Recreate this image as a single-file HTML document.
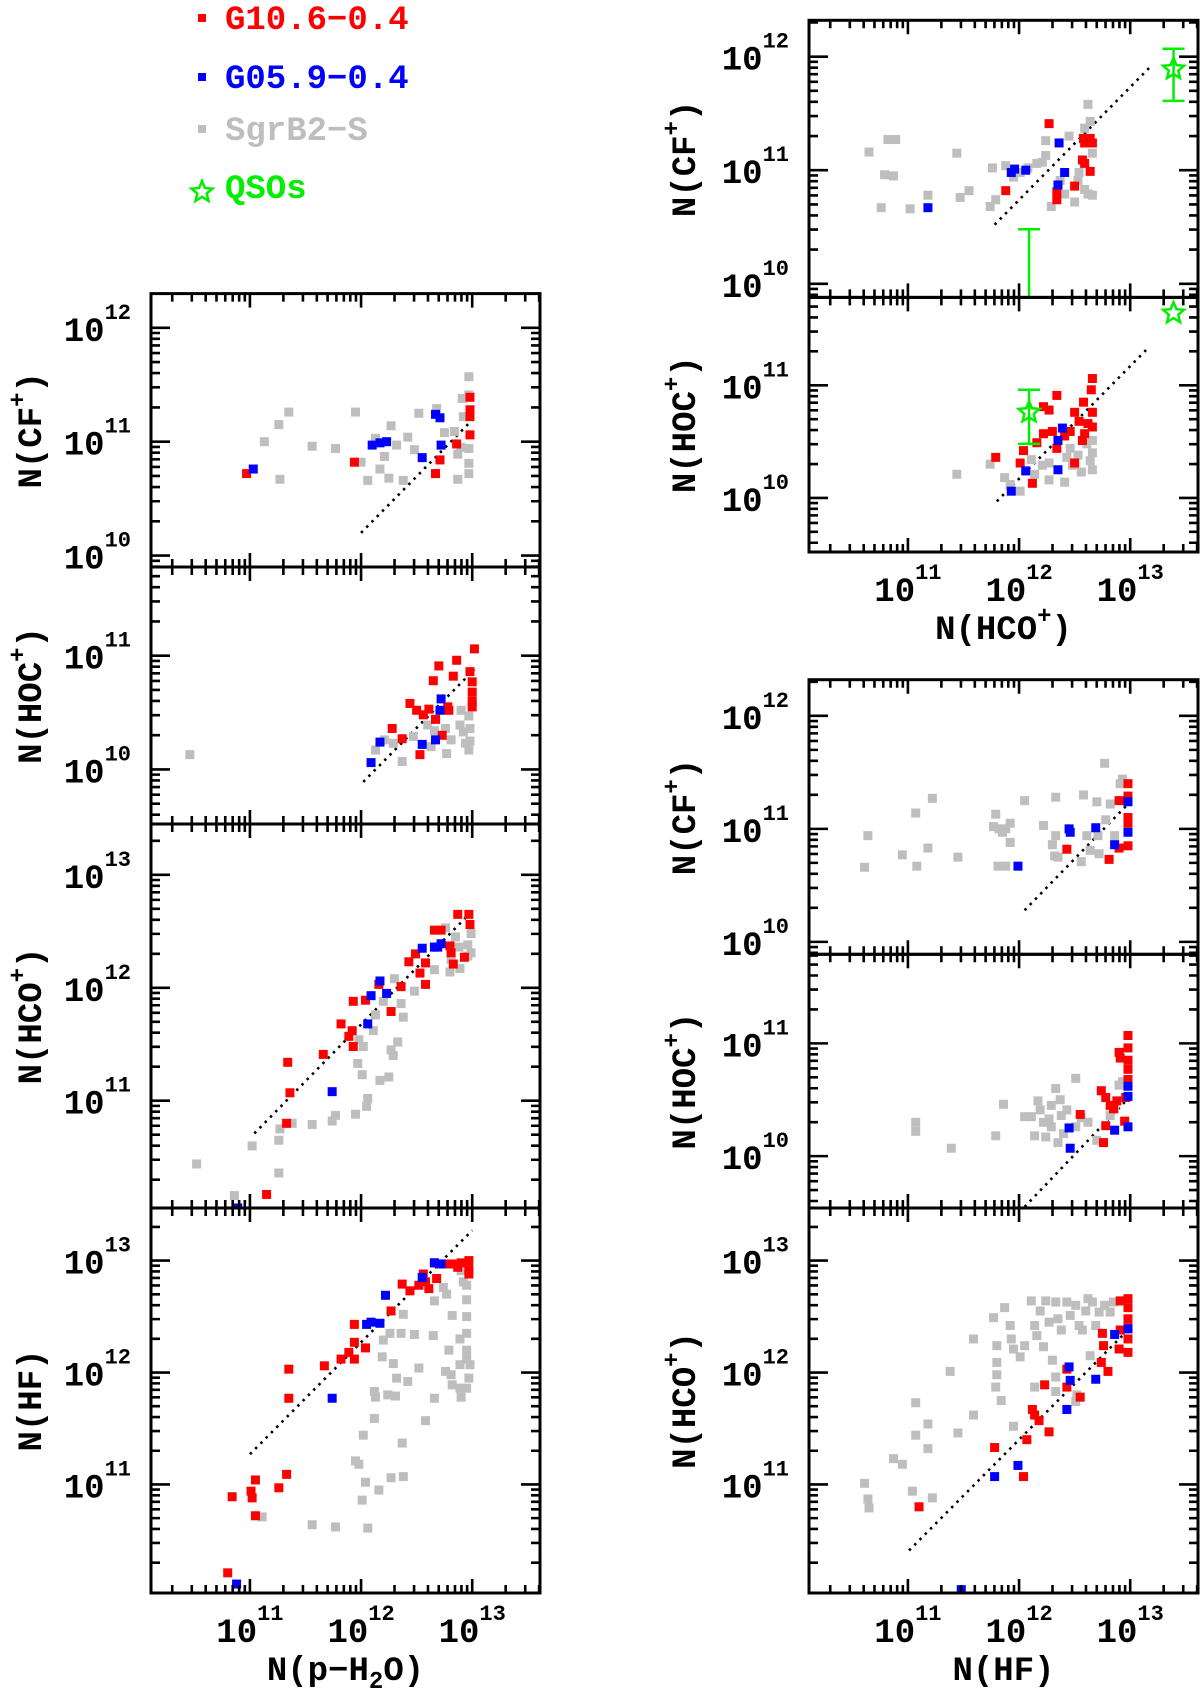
<!DOCTYPE html>
<html><head><meta charset="utf-8"><title>Column density correlations</title>
<style>
html,body{margin:0;padding:0;background:#fff;}
svg{display:block;}
text{font-family:"Liberation Mono","DejaVu Sans Mono",monospace;font-weight:bold;}
</style></head>
<body>
<svg id="fig" width="1200" height="1696" viewBox="0 0 1200 1696" xmlns="http://www.w3.org/2000/svg">
  <g id="legend">
    <rect x="198" y="14" width="8" height="8" fill="#ff0000"/>
    <text x="225" y="29" font-size="34" fill="#ff0000">G10.6−0.4</text>
    <rect x="198" y="73" width="8" height="8" fill="#0000ff"/>
    <text x="225" y="88" font-size="34" fill="#0000ff">G05.9−0.4</text>
    <rect x="198" y="125" width="8" height="8" fill="#bebebe"/>
    <text x="225" y="140" font-size="34" fill="#bebebe">SgrB2−S</text>
    <polygon id="legstar" fill="none" stroke="#00ee00" stroke-width="2.5"/>
    <text x="225" y="198" font-size="34" fill="#00ee00">QSOs</text>
  </g>
</svg>
<script>
// ---------- DATA (log10 column densities) ----------
// Left column: x = N(p-H2O)
const cfH2oGray=[[11.13,11.0],[11.26,11.15],[11.35,11.26],[11.27,10.67],[11.56,10.96],[11.77,10.94],[11.95,11.26],[12.0,10.82],[12.06,10.66],[12.13,11.03],[12.17,10.76],[12.21,10.87],[12.25,10.68],[12.27,11.14],[12.32,10.97],[12.42,11.04],[12.38,10.66],[12.48,10.93],[12.52,11.25],[12.68,11.29],[12.75,11.08],[12.87,10.67],[12.87,10.89],[12.91,11.38],[12.92,11.22],[12.97,11.57],[12.97,11.41],[12.97,10.94],[12.97,10.81],[12.97,10.72],[12.84,11.09],[12.90,10.95]];
const cfH2oRed=[[10.97,10.72],[11.94,10.82],[12.67,10.72],[12.71,10.84],[12.86,10.98],[12.98,11.39],[12.98,11.28],[12.98,11.22],[12.98,11.06]];
const cfH2oBlue=[[11.03,10.76],[12.10,10.97],[12.17,10.99],[12.23,11.0],[12.55,10.86],[12.67,11.24],[12.71,11.21],[12.72,10.97]];
const cfH2oFit=[[12.0,10.2],[13.0,11.19]];

const hocH2oGray=[[10.46,10.13],[12.13,10.17],[12.21,10.26],[12.29,10.23],[12.37,10.07],[12.47,10.29],[12.6,10.39],[12.66,10.34],[12.76,10.36],[12.77,10.14],[12.81,10.26],[12.89,10.39],[12.92,10.33],[12.94,10.23],[12.97,10.17],[12.97,10.47],[12.9,10.52],[12.98,10.36],[12.98,10.25],[12.63,10.2]];
const hocH2oRed=[[13.02,11.06],[12.86,10.96],[12.70,10.91],[12.83,10.82],[12.65,10.78],[12.98,10.86],[13.0,10.77],[13.0,10.68],[13.0,10.6],[13.0,10.55],[12.44,10.58],[12.5,10.52],[12.56,10.48],[12.61,10.53],[12.67,10.44],[12.79,10.52],[12.28,10.36],[12.37,10.27],[12.53,10.13],[12.73,10.30],[12.78,10.55]];
const hocH2oBlue=[[12.09,10.06],[12.17,10.24],[12.55,10.22],[12.67,10.26],[12.72,10.62],[12.71,10.52]];
const hocH2oFit=[[12.02,9.89],[13.02,10.88]];

const hcoH2oGray=[[10.52,10.44],[10.86,10.16],[11.02,10.60],[11.26,10.36],[11.26,10.65],[11.27,10.75],[11.38,10.8],[11.56,10.79],[11.74,10.82],[11.77,10.87],[11.95,10.88],[12.05,10.95],[12.06,11.02],[12.01,11.23],[11.97,11.33],[12.02,11.48],[11.98,11.54],[12.17,11.18],[12.25,11.21],[12.29,11.40],[12.27,11.45],[12.33,11.52],[12.11,11.62],[12.13,11.76],[12.2,11.88],[12.38,11.74],[12.36,11.86],[12.30,12.08],[12.48,11.97],[12.66,12.16],[12.80,12.14],[12.89,12.17],[12.96,12.28],[12.96,12.38],[12.99,12.48],[12.88,12.36],[12.81,12.25],[12.76,12.53],[12.85,12.45],[12.99,12.31]];
const hcoH2oRed=[[11.34,11.34],[11.36,11.07],[11.33,10.80],[11.15,10.17],[11.66,11.41],[11.82,11.68],[11.92,11.62],[11.89,11.57],[11.93,11.48],[11.93,11.88],[12.04,11.89],[12.27,11.79],[12.36,12.01],[12.43,12.23],[12.49,12.30],[12.53,12.13],[12.58,12.03],[12.58,12.22],[12.66,12.51],[12.72,12.51],[12.80,12.37],[12.81,12.31],[12.83,12.21],[12.87,12.65],[12.93,12.27],[12.97,12.65],[12.98,12.56],[12.16,12.03]];
const hcoH2oBlue=[[10.89,10.05],[11.74,11.08],[12.06,11.68],[12.09,11.93],[12.17,12.06],[12.23,11.95],[12.55,12.35],[12.66,12.36],[12.72,12.39],[12.69,12.36]];
const hcoH2oFit=[[11.04,10.71],[13.0,12.68]];

const hfH2oGray=[[11.11,10.71],[11.56,10.64],[11.77,10.62],[12.06,10.61],[12.01,10.86],[12.04,11.02],[12.16,10.95],[11.95,11.21],[11.98,11.18],[12.27,11.06],[12.38,11.07],[12.37,11.37],[12.02,11.44],[12.12,11.59],[12.58,11.57],[12.12,11.83],[12.13,11.78],[12.24,11.8],[12.31,11.79],[12.32,11.95],[12.42,11.92],[12.19,12.14],[12.29,12.08],[12.2,12.29],[12.26,12.35],[12.36,12.35],[12.48,12.34],[12.52,12.04],[12.65,12.33],[12.38,12.52],[12.66,11.77],[12.76,12.01],[12.79,12.2],[12.82,12.51],[12.66,12.64],[12.74,12.76],[12.77,12.7],[12.82,11.89],[12.89,11.86],[12.90,11.78],[12.89,12.07],[12.95,11.86],[12.97,11.95],[12.90,12.91],[12.92,12.81],[12.95,12.78],[12.95,12.65],[12.95,12.5],[12.95,12.35],[12.95,12.2],[12.95,12.12],[12.89,12.3],[12.81,11.98],[12.98,12.07]];
const hfH2oRed=[[10.84,10.89],[11.01,10.94],[11.02,10.88],[11.05,11.04],[11.05,10.72],[11.26,10.97],[11.33,11.09],[11.35,11.77],[11.35,12.03],[11.67,12.06],[11.82,12.12],[11.89,12.18],[11.94,12.27],[11.94,12.12],[11.94,12.43],[12.04,12.22],[12.27,12.55],[12.37,12.79],[12.44,12.73],[12.52,12.78],[12.58,12.81],[12.56,12.88],[12.61,12.75],[12.68,12.84],[12.66,12.98],[12.76,12.97],[12.82,12.97],[12.90,12.98],[12.97,13.0],[12.97,12.92],[12.97,12.88],[12.87,12.94],[10.80,10.21]];
const hfH2oBlue=[[10.88,10.11],[11.74,11.77],[12.05,12.43],[12.09,12.45],[12.17,12.44],[12.22,12.69],[12.55,12.85],[12.66,12.98],[12.72,12.97]];
const hfH2oFit=[[11.0,11.27],[13.0,13.27]];

// Right top: x = N(HCO+)
const cfHcoGray=[[10.65,11.16],[10.82,11.27],[10.89,11.27],[10.79,10.96],[10.87,10.95],[10.76,10.67],[11.02,10.66],[11.18,10.78],[11.44,11.15],[11.47,10.76],[11.55,10.82],[11.74,10.68],[11.79,10.74],[11.76,11.02],[11.88,11.04],[11.95,10.94],[12.01,10.98],[12.08,11.02],[12.16,11.06],[12.21,11.07],[12.24,11.26],[12.24,11.13],[12.29,10.68],[12.37,10.91],[12.41,10.79],[12.45,11.3],[12.5,10.72],[12.53,10.91],[12.59,10.83],[12.62,10.79],[12.66,10.78],[12.62,11.58],[12.64,11.43],[12.59,11.37],[12.66,11.15],[12.54,10.98]];
const cfHcoRed=[[12.27,11.41],[11.88,10.82],[12.34,10.81],[12.34,10.74],[12.50,10.86],[12.57,11.09],[12.59,11.06],[12.64,10.99],[12.59,11.24],[12.64,11.28],[12.66,11.24],[12.58,11.28]];
const cfHcoBlue=[[11.18,10.67],[11.93,10.98],[11.96,11.01],[12.06,11.0],[12.36,11.24],[12.41,10.98],[12.35,10.87]];
const cfHcoFit=[[11.78,10.52],[13.19,11.92]];
const cfHcoQsoStar=[[13.39,11.89]];
const cfHcoQsoErr=[[13.39,11.61,12.07],[12.09,9.88,10.48]];

const hocHcoGray=[[11.44,10.21],[11.74,10.30],[11.87,10.18],[12.01,10.06],[11.92,10.12],[12.11,10.34],[12.27,10.16],[12.41,10.14],[12.27,10.31],[12.43,10.36],[12.46,10.44],[12.53,10.38],[12.61,10.48],[12.64,10.33],[12.66,10.51],[12.66,10.25],[12.56,10.23],[12.48,10.29],[12.14,10.21],[12.21,10.29],[12.66,10.40]];
const hocHcoRed=[[11.79,10.36],[12.01,10.31],[12.04,10.42],[12.12,10.13],[12.16,10.49],[12.22,10.57],[12.22,10.81],[12.27,10.78],[12.34,10.91],[12.34,10.44],[12.3,10.59],[12.41,10.55],[12.46,10.59],[12.5,10.31],[12.5,10.76],[12.54,10.68],[12.58,10.85],[12.59,10.57],[12.62,10.66],[12.65,10.96],[12.66,11.06],[12.66,10.76],[12.66,10.63],[12.57,10.51]];
const hocHcoBlue=[[11.93,10.06],[12.06,10.24],[12.35,10.51],[12.39,10.62],[12.35,10.25]];
const hocHcoFit=[[11.8,9.97],[13.16,11.33]];
const hocHcoQsoStar=[[13.39,11.64],[12.09,10.76]];
const hocHcoQsoErr=[[12.09,10.48,10.96]];

// Right bottom: x = N(HF)
const cfHfGray=[[10.61,10.66],[10.64,10.94],[10.95,10.77],[11.07,11.14],[11.08,10.67],[11.18,10.83],[11.22,11.27],[11.45,10.75],[11.79,11.13],[11.77,11.02],[11.82,11.0],[11.85,10.97],[11.88,11.0],[11.92,11.05],[11.92,10.88],[11.81,10.67],[11.88,10.67],[12.05,11.25],[12.22,11.03],[12.30,10.86],[12.33,10.94],[12.32,10.76],[12.35,10.75],[12.33,11.28],[12.56,10.71],[12.58,11.30],[12.61,10.94],[12.64,10.81],[12.70,11.24],[12.72,10.78],[12.71,10.94],[12.77,11.58],[12.78,11.08],[12.82,11.22],[12.86,10.94],[12.91,11.40],[12.93,11.44]];
const cfHfRed=[[12.43,10.82],[12.81,10.73],[12.90,10.83],[12.90,11.25],[12.98,11.40],[12.98,11.29],[12.98,11.10],[12.98,11.05],[12.98,10.85]];
const cfHfBlue=[[11.99,10.67],[12.45,11.0],[12.46,10.97],[12.69,11.01],[12.86,10.86],[12.98,11.24],[12.98,10.97]];
const cfHfFit=[[12.05,10.28],[12.99,11.23]];

const hocHfGray=[[11.07,10.30],[11.07,10.22],[11.39,10.07],[11.79,10.18],[11.86,10.46],[12.05,10.35],[12.11,10.35],[12.14,10.18],[12.17,10.49],[12.19,10.41],[12.24,10.17],[12.27,10.33],[12.29,10.26],[12.33,10.6],[12.35,10.12],[12.37,10.50],[12.38,10.36],[12.43,10.41],[12.51,10.69],[12.51,10.26],[12.56,10.34],[12.62,10.30],[12.70,10.14],[12.74,10.58],[12.82,10.36],[12.86,10.42],[12.90,10.63],[12.93,10.66],[12.29,10.45],[12.22,10.30],[12.40,10.20]];
const hocHfRed=[[12.55,10.37],[12.74,10.58],[12.76,10.12],[12.78,10.52],[12.78,10.27],[12.82,10.45],[12.88,10.49],[12.90,10.92],[12.91,10.87],[12.95,10.31],[12.98,11.07],[12.98,10.96],[12.98,10.85],[12.98,10.77],[12.98,10.68],[12.96,10.52],[12.85,10.42]];
const hocHfBlue=[[12.45,10.25],[12.46,10.07],[12.86,10.23],[12.98,10.26],[12.98,10.62],[12.98,10.53]];
const hocHfFit=[[12.05,9.55],[12.98,10.51]];

const hcoHfGray=[[10.61,11.01],[10.64,10.87],[10.65,10.79],[10.87,11.23],[10.95,11.18],[11.04,10.94],[11.22,10.88],[11.07,11.73],[11.18,11.54],[11.07,11.44],[11.18,11.32],[11.38,12.01],[11.45,11.46],[11.59,12.30],[11.59,11.62],[11.77,12.49],[11.80,12.24],[11.80,12.09],[11.80,11.98],[11.79,11.87],[11.84,11.75],[11.87,12.58],[11.95,11.52],[11.92,12.42],[11.93,12.30],[11.95,12.21],[12.01,12.14],[12.05,12.24],[12.11,12.64],[12.14,12.42],[12.16,12.33],[12.19,12.55],[12.22,12.23],[12.24,12.64],[12.27,12.45],[12.30,12.11],[12.33,12.63],[12.35,12.48],[12.38,12.38],[12.43,12.63],[12.46,12.51],[12.51,12.60],[12.54,12.42],[12.57,12.38],[12.60,12.55],[12.66,12.63],[12.69,12.42],[12.72,12.54],[12.77,12.60],[12.82,12.54],[12.85,12.63],[12.64,12.15],[12.14,11.87],[12.33,11.96],[12.33,11.83],[12.51,11.74],[12.52,11.80],[12.62,12.66]];
const hcoHfRed=[[11.10,10.80],[11.78,11.33],[12.04,11.07],[12.07,11.40],[12.12,11.67],[12.14,11.62],[12.18,11.57],[12.23,11.89],[12.27,11.47],[12.43,12.03],[12.43,11.87],[12.55,11.78],[12.74,12.09],[12.76,12.24],[12.80,12.01],[12.75,12.35],[12.90,12.21],[12.91,12.38],[12.98,12.66],[12.98,12.58],[12.98,12.48],[12.98,12.4],[12.98,12.3],[12.98,12.18],[12.91,12.64]];
const hcoHfBlue=[[11.48,10.06],[11.78,11.07],[11.99,11.17],[12.43,11.67],[12.45,12.05],[12.46,11.93],[12.69,11.94],[12.86,12.34],[12.98,12.39]];
const hcoHfFit=[[11.01,10.41],[12.96,12.36]];

// ---------- LAYOUT ----------
const XMIN=10.11, XMAX=13.61;
const panels=[
 {id:'cf-vs-h2o', x0:151,x1:540,y0:293.6,y1:567,ymin:9.9,ymax:12.3, ytitle:['N(CF','+',')'], tx:29, gray:cfH2oGray,red:cfH2oRed,blue:cfH2oBlue,fit:cfH2oFit},
 {id:'hoc-vs-h2o', x0:151,x1:540,y0:567,y1:824,ymin:9.52,ymax:11.78, ytitle:['N(HOC','+',')'], tx:29, gray:hocH2oGray,red:hocH2oRed,blue:hocH2oBlue,fit:hocH2oFit},
 {id:'hco-vs-h2o', x0:151,x1:540,y0:824,y1:1208,ymin:10.05,ymax:13.45, ytitle:['N(HCO','+',')'], tx:29, gray:hcoH2oGray,red:hcoH2oRed,blue:hcoH2oBlue,fit:hcoH2oFit},
 {id:'hf-vs-h2o', x0:151,x1:540,y0:1208,y1:1593,ymin:10.03,ymax:13.47, ytitle:['N(HF)','',''], tx:29, gray:hfH2oGray,red:hfH2oRed,blue:hfH2oBlue,fit:hfH2oFit, xlab:true, xtitle:'h2o'},
 {id:'cf-vs-hco', x0:809,x1:1198,y0:20.3,y1:297.4,ymin:9.88,ymax:12.32, ytitle:['N(CF','+',')'], tx:683, gray:cfHcoGray,red:cfHcoRed,blue:cfHcoBlue,fit:cfHcoFit, stars:cfHcoQsoStar, errs:cfHcoQsoErr},
 {id:'hoc-vs-hco', x0:809,x1:1198,y0:297.4,y1:552,ymin:9.52,ymax:11.78, ytitle:['N(HOC','+',')'], tx:683, gray:hocHcoGray,red:hocHcoRed,blue:hocHcoBlue,fit:hocHcoFit, stars:hocHcoQsoStar, errs:hocHcoQsoErr, xlab:true, xtitle:'hco'},
 {id:'cf-vs-hf', x0:809,x1:1198,y0:679.7,y1:954.3,ymin:9.89,ymax:12.32, ytitle:['N(CF','+',')'], tx:683, gray:cfHfGray,red:cfHfRed,blue:cfHfBlue,fit:cfHfFit},
 {id:'hoc-vs-hf', x0:809,x1:1198,y0:954.3,y1:1208,ymin:9.54,ymax:11.79, ytitle:['N(HOC','+',')'], tx:683, gray:hocHfGray,red:hocHfRed,blue:hocHfBlue,fit:hocHfFit},
 {id:'hco-vs-hf', x0:809,x1:1198,y0:1208,y1:1593,ymin:10.03,ymax:13.47, ytitle:['N(HCO','+',')'], tx:683, gray:hcoHfGray,red:hcoHfRed,blue:hcoHfBlue,fit:hcoHfFit, xlab:true, xtitle:'hf'}
];

const NS='http://www.w3.org/2000/svg';
const svg=document.getElementById('fig');
function mk(tag,attrs,parent){const e=document.createElementNS(NS,tag);for(const k in attrs)e.setAttribute(k,attrs[k]);(parent||svg).appendChild(e);return e;}
function starPts(cx,cy,R){const r=R*0.45;let p=[];for(let i=0;i<10;i++){const a=-Math.PI/2+i*Math.PI/5;const rr=i%2?r:R;p.push((cx+rr*Math.cos(a)).toFixed(1)+','+(cy+rr*Math.sin(a)).toFixed(1));}return p.join(' ');}
document.getElementById('legstar').setAttribute('points',starPts(202,192,11));

panels.forEach((P,pi)=>{
  const sx=v=>P.x0+(v-XMIN)/(XMAX-XMIN)*(P.x1-P.x0);
  const sy=v=>P.y1-(v-P.ymin)/(P.ymax-P.ymin)*(P.y1-P.y0);
  const g=mk('g',{});
  
  
  const cp=mk('clipPath',{id:'clip'+pi},g);
  mk('rect',{x:P.x0,y:P.y0,width:P.x1-P.x0,height:P.y1-P.y0},cp);
  const data=mk('g',{'clip-path':'url(#clip'+pi+')'},g);
  
  
  // fit line
  const fl=mk('line',{x1:sx(P.fit[0][0]),y1:sy(P.fit[0][1]),x2:sx(P.fit[1][0]),y2:sy(P.fit[1][1]),stroke:'#000','stroke-width':2.6,'stroke-dasharray':'2.5 5'},data);
  
  
  const series=[['gray','#bebebe','sgrb2-s'],['red','#ff0000','g10'],['blue','#0000ff','g05']];
  series.forEach(([key,col,nm])=>{
    P[key].forEach(([lx,ly])=>{
      const r=mk('rect',{x:sx(lx)-4.5,y:sy(ly)-4.5,width:9,height:9,fill:col},data);
      
      
    });
  });
  if(P.errs){P.errs.forEach(([lx,lo,hi])=>{
    const x=sx(lx),ya=sy(lo),yb=sy(hi);
    const e=mk('path',{d:`M${x},${ya}V${yb}M${x-11},${ya}H${x+11}M${x-11},${yb}H${x+11}`,stroke:'#00ee00','stroke-width':2.5,fill:'none'},data);
    
    
  });}
  if(P.stars){P.stars.forEach(([lx,ly])=>{
    const s=mk('polygon',{points:starPts(sx(lx),sy(ly),11),fill:'none',stroke:'#00ee00','stroke-width':2.5},data);
    
    
  });}
  // frame
  const fr=mk('rect',{x:P.x0,y:P.y0,width:P.x1-P.x0,height:P.y1-P.y0,fill:'none',stroke:'#000','stroke-width':3},g);
  
  
  // ticks
  let d='';
  for(let dec=9;dec<=14;dec++){for(let k=1;k<=9;k++){const v=dec+Math.log10(k);
    if(v>XMIN&&v<XMAX){const x=sx(v),L=k==1?14:8;d+=`M${x},${P.y0}v${L}M${x},${P.y1}v${-L}`;}
    if(v>P.ymin&&v<P.ymax){const y=sy(v),L=k==1?19:9;d+=`M${P.x0},${y}h${L}M${P.x1},${y}h${-L}`;}
  }}
  const tk=mk('path',{d:d,stroke:'#000','stroke-width':2.6,fill:'none'},g);
  
  
  // y tick labels
  for(let dec=9;dec<=14;dec++){ if(dec>=P.ymin&&dec<=P.ymax){
    const y=sy(dec);
    const t=mk('text',{x:P.x0-20,y:y+13,'font-size':34,'text-anchor':'end'},g);
    
    
    t.innerHTML='10<tspan font-size="22" dy="-22">'+dec+'</tspan>';
  }}
  // x tick labels
  if(P.xlab){for(const dec of [11,12,13]){
    const x=sx(dec);
    const t=mk('text',{x:x,y:P.y1+49,'font-size':34,'text-anchor':'middle'},g);
    
    
    t.innerHTML='10<tspan font-size="22" dy="-22">'+dec+'</tspan>';
  }}
  // y title
  const cy=(P.y0+P.y1)/2;
  const yt=mk('text',{x:0,y:0,'font-size':34,'text-anchor':'middle',transform:`translate(${P.tx+12},${cy}) rotate(-90)`},g);
  
  
  yt.innerHTML=P.ytitle[0]+(P.ytitle[1]?'<tspan font-size="24" dy="-16">'+P.ytitle[1]+'</tspan><tspan dy="16">'+P.ytitle[2]+'</tspan>':'');
  // x title
  if(P.xtitle){
    const cx=(P.x0+P.x1)/2-0;
    const xt=mk('text',{x:cx,y:P.y1+87,'font-size':34,'text-anchor':'middle'},g);
    
    
    if(P.xtitle=='h2o') xt.innerHTML='N(p−H<tspan font-size="24" dy="8">2</tspan><tspan dy="-8">O)</tspan>';
    else if(P.xtitle=='hco') xt.innerHTML='N(HCO<tspan font-size="24" dy="-16">+</tspan><tspan dy="16">)</tspan>';
    else xt.textContent='N(HF)';
  }
});
</script>
</body></html>
